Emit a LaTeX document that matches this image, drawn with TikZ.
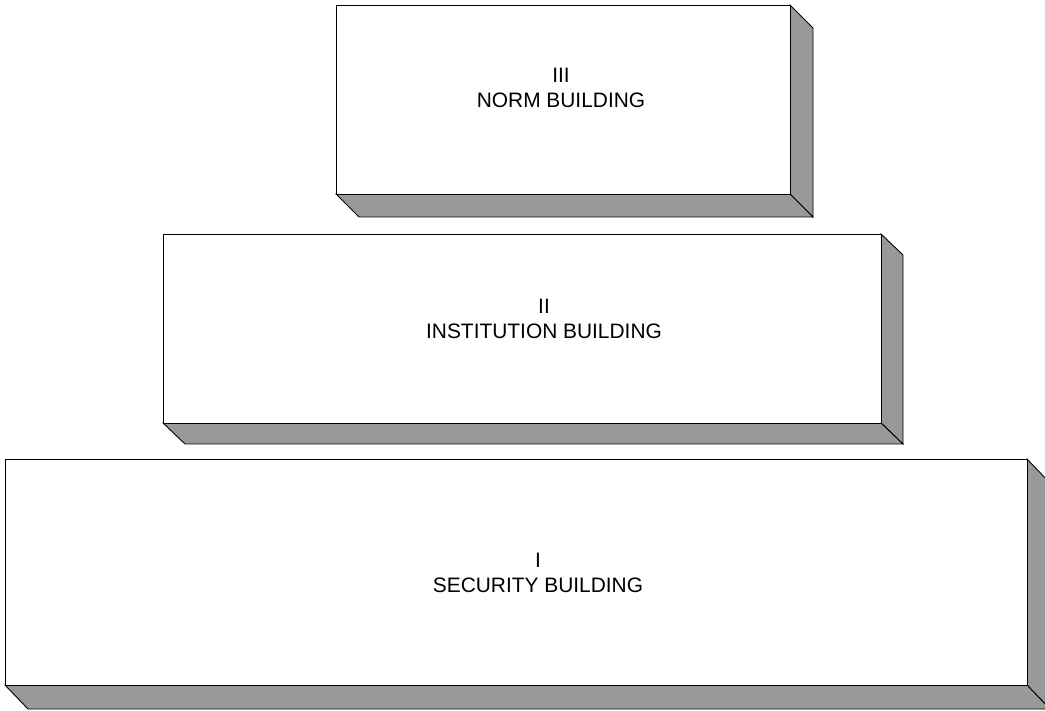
\documentclass[tikz,border=0pt]{standalone}
\usepackage{fontspec}
\setmainfont{Liberation Sans}
\definecolor{sidegray}{HTML}{999999}
\newcommand{\lblfont}{\fontsize{20.9}{25}\selectfont}
\begin{document}
\begin{tikzpicture}[x=1pt,y=-1pt,
  side/.style={fill=sidegray, draw=black, line width=0.9pt, line join=miter},
  front/.style={fill=white, draw=black, line width=0.9pt},
  lbl/.style={font=\lblfont, align=center, inner sep=0pt, anchor=north}]
\useasboundingbox (0,0) rectangle (1045,711);
\clip (0,0) rectangle (1045,711);
% Box III
\draw[side] (790,5) -- (813,28) -- (813,217) -- (790,194) -- cycle;
\draw[side] (336,194) -- (790,194) -- (813,217) -- (359,217) -- cycle;
\node[front, minimum width=454pt, minimum height=189pt, inner sep=0pt, anchor=north west] (f3) at (336,5) {};
\node[lbl] (t3) at (561,68) {III\\NORM BUILDING};
% Box II
\draw[side] (881,234) -- (903,255) -- (903,444) -- (881,423) -- cycle;
\draw[side] (163,423) -- (881,423) -- (903,444) -- (185,444) -- cycle;
\node[front, minimum width=718pt, minimum height=189pt, inner sep=0pt, anchor=north west] (f2) at (163,234) {};
\node[lbl] (t2) at (544,299) {II\\INSTITUTION BUILDING};
% Box I
\draw[side] (1027,459) -- (1050,483) -- (1050,709) -- (1027,685) -- cycle;
\draw[side] (5,685) -- (1027,685) -- (1050,709) -- (28,709) -- cycle;
\node[front, minimum width=1022pt, minimum height=226pt, inner sep=0pt, anchor=north west] (f1) at (5,459) {};
\node[lbl] (t1) at (538,553) {I\\SECURITY BUILDING};
\end{tikzpicture}
\end{document}
